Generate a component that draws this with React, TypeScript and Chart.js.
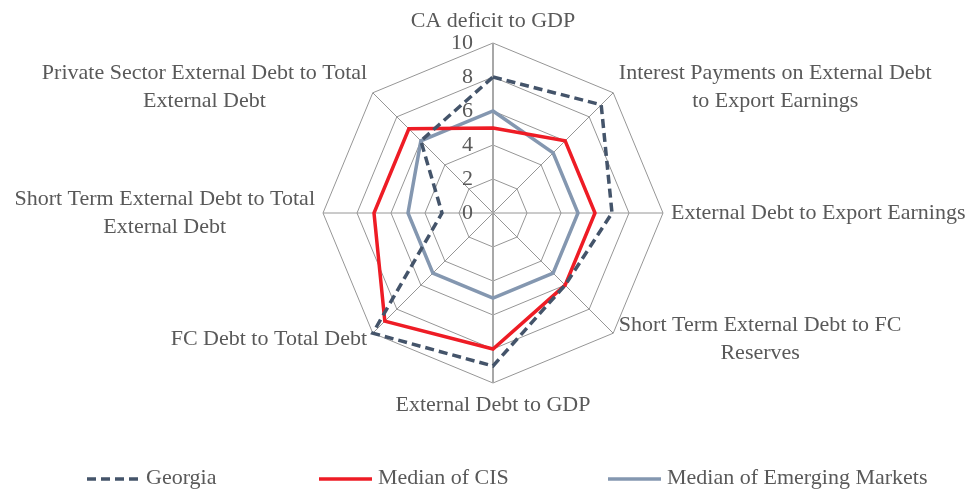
import React, { useEffect, useRef } from 'react';
import { Chart, registerables } from 'chart.js';

Chart.register(...registerables);

// ---- data ----
const categories: (string | string[])[] = [
  'CA deficit to GDP',
  ['Interest Payments on External Debt', 'to Export Earnings'],
  'External Debt to Export Earnings',
  ['Short Term External Debt to FC', 'Reserves'],
  'External Debt to GDP',
  'FC Debt to Total Debt',
  ['Short Term External Debt to Total', 'External Debt'],
  ['Private Sector External Debt to Total', 'External Debt'],
];
const seriesNames = ['Georgia', 'Median of CIS', 'Median of Emerging Markets'];
const georgia = [8, 9, 7, 6, 9, 10, 3, 6];
const medianCIS = [5, 6, 6, 6, 8, 9, 7, 7];
const medianEM = [6, 5, 5, 5, 5, 5, 5, 6];
const scaleMin = 0;
const scaleMax = 10;
const scaleStep = 2;

// ---- styles ----
const FONT = '"Liberation Serif", "Times New Roman", serif';
const TEXT_COLOR = '#595959';
const LABEL_SIZE = 22;
const LABEL_LINE_H = 28;
const LABEL_PAD = 8;
const TICK_SIZE = 22;
const LEGEND_X = [87, 319, 608];
const LEGEND_Y = 479;
const LEGEND_LINE = 53;

const pointLabelPlugin = {
  id: 'customPointLabels',
  afterDraw(chart: any) {
    const scale = chart.scales.r;
    const ctx = chart.ctx as CanvasRenderingContext2D;
    const labels = chart.data.labels as (string | string[])[];
    ctx.save();
    ctx.font = `${LABEL_SIZE}px ${FONT}`;
    ctx.fillStyle = TEXT_COLOR;
    ctx.textBaseline = 'middle';
    ctx.textAlign = 'center';
    labels.forEach((lab, i) => {
      const lines = Array.isArray(lab) ? lab : [lab];
      const pos = scale.getPointPosition(i, scale.drawingArea + LABEL_PAD);
      const deg = Math.round((scale.getIndexAngle(i) * 180) / Math.PI) % 360;
      const w = Math.max(...lines.map((l) => ctx.measureText(l).width));
      const h = lines.length * LABEL_LINE_H;
      let left: number;
      if (deg === 0 || deg === 180) left = pos.x - w / 2;
      else if (deg < 180) left = pos.x;
      else left = pos.x - w;
      let top: number;
      if (deg === 0) top = pos.y - h;
      else if (deg === 180) top = pos.y;
      else top = pos.y - h / 2;
      lines.forEach((l, k) => ctx.fillText(l, left + w / 2, top + LABEL_LINE_H * (k + 0.5)));
    });
    ctx.restore();
  },
};

const tickLabelPlugin = {
  id: 'customTickLabels',
  beforeDatasetsDraw(chart: any) {
    const scale = chart.scales.r;
    const ctx = chart.ctx as CanvasRenderingContext2D;
    ctx.save();
    ctx.font = `${TICK_SIZE}px ${FONT}`;
    ctx.fillStyle = TEXT_COLOR;
    ctx.textBaseline = 'middle';
    ctx.textAlign = 'right';
    scale.ticks.forEach((t: any) => {
      const d = scale.getDistanceFromCenterForValue(t.value);
      ctx.fillText(String(t.value), scale.xCenter - 20, scale.yCenter - d);
    });
    ctx.restore();
  },
};

const legendPlugin = {
  id: 'customLegend',
  afterDraw(chart: any) {
    const ctx = chart.ctx as CanvasRenderingContext2D;
    ctx.save();
    ctx.font = `${LABEL_SIZE}px ${FONT}`;
    ctx.textBaseline = 'middle';
    ctx.textAlign = 'left';
    chart.data.datasets.forEach((ds: any, i: number) => {
      const x = LEGEND_X[i];
      ctx.strokeStyle = ds.borderColor;
      ctx.lineWidth = ds.borderWidth;
      ctx.setLineDash(ds.borderDash || []);
      ctx.beginPath();
      ctx.moveTo(x, LEGEND_Y);
      ctx.lineTo(x + LEGEND_LINE, LEGEND_Y);
      ctx.stroke();
      ctx.setLineDash([]);
      ctx.fillStyle = TEXT_COLOR;
      ctx.fillText(ds.label, x + LEGEND_LINE + 6, LEGEND_Y - 1);
    });
    ctx.restore();
  },
};

export default function App() {
  const ref = useRef<HTMLCanvasElement | null>(null);
  useEffect(() => {
    if (!ref.current) return;
    const chart = new Chart(ref.current, {
      type: 'radar',
      data: {
        labels: categories as any,
        datasets: [
          {
            label: seriesNames[0],
            data: georgia,
            borderColor: '#44546A',
            borderWidth: 3.5,
            borderDash: [9, 5],
            fill: false,
            pointRadius: 0,
            borderJoinStyle: 'miter',
          },
          {
            label: seriesNames[1],
            data: medianCIS,
            borderColor: '#EE1C25',
            borderWidth: 3.5,
            fill: false,
            pointRadius: 0,
            borderJoinStyle: 'miter',
          },
          {
            label: seriesNames[2],
            data: medianEM,
            borderColor: '#8497B0',
            borderWidth: 3.5,
            fill: false,
            pointRadius: 0,
            borderJoinStyle: 'miter',
          },
        ],
      },
      options: {
        animation: false,
        responsive: true,
        maintainAspectRatio: false,
        layout: { padding: { left: 323, right: 305, top: 43, bottom: 111 } },
        plugins: { legend: { display: false }, tooltip: { enabled: false } },
        elements: { line: { tension: 0 } },
        scales: {
          r: {
            min: scaleMin,
            max: scaleMax,
            ticks: { stepSize: scaleStep, display: false },
            pointLabels: { display: false },
            grid: { color: '#969696', lineWidth: 1, circular: false },
            angleLines: {
              color: (c: any) => (c.index === 0 || c.index === 4 ? '#A8A8A8' : '#969696'),
              lineWidth: (c: any) => (c.index === 0 || c.index === 4 ? 2 : 1),
            },
          },
        },
      },
      plugins: [tickLabelPlugin, pointLabelPlugin, legendPlugin],
    });
    return () => chart.destroy();
  }, []);
  return (
    <div style={{ position: 'fixed', left: 0, top: 0, width: 968, height: 494, background: '#fff' }}>
      <canvas ref={ref} />
    </div>
  );
}
